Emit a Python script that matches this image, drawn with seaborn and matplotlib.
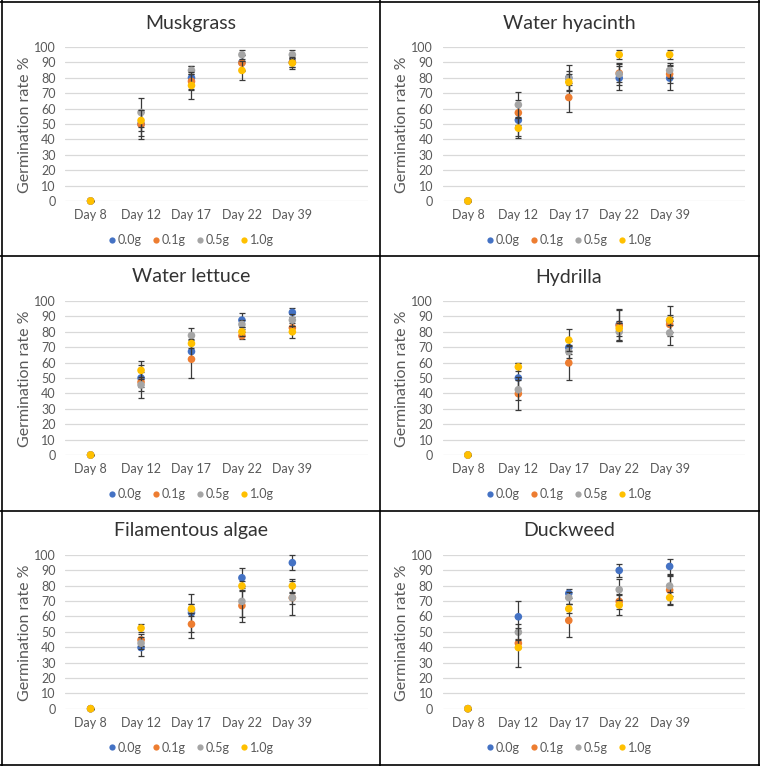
import numpy as np
import pandas as pd
import matplotlib
matplotlib.use("Agg")
import matplotlib.pyplot as plt
import seaborn as sns
from matplotlib.lines import Line2D

days = ["Day 8", "Day 12", "Day 17", "Day 22", "Day 39"]
doses = ["0.0g", "0.1g", "0.5g", "1.0g"]
colors = ["#4472C4", "#ED7D31", "#A5A5A5", "#FFC000"]
titles = ["Muskgrass", "Water hyacinth", "Water lettuce", "Hydrilla",
          "Filamentous algae", "Duckweed"]

# mean germination rate, one row per dose (0.0g, 0.1g, 0.5g, 1.0g)
muskgrass_mean = [[0, 50, 80, 90, 90], [0, 49.7, 77.7, 89.6, 90],
                  [0, 57.5, 84.8, 95, 95], [0, 52.3, 75, 84.8, 89.6]]
muskgrass_err = [[0, 8, 7.6, 5, 3], [0, 9.7, 5, 5, 3],
                 [0, 9.3, 2.6, 2.8, 2.8], [0, 7, 8.6, 6, 4]]

hyacinth_mean = [[0, 52.5, 80, 79.8, 79.8], [0, 57.3, 67.2, 83, 82.4],
                 [0, 62.5, 79.8, 82.4, 84.8], [0, 47.3, 77.2, 95, 95]]
hyacinth_err = [[0, 10, 8.5, 8, 8], [0, 8, 9.5, 6, 6],
                [0, 8.2, 4.5, 7, 5], [0, 6.5, 5, 2.8, 2.8]]

lettuce_mean = [[0, 50, 67.2, 87.6, 92.6], [0, 47.4, 62.2, 77.4, 82.6],
                [0, 45.5, 77.6, 84.8, 87.6], [0, 55, 72.4, 80, 80]]
lettuce_err = [[0, 8.5, 5, 4.4, 3], [0, 3, 12.2, 2.2, 3],
               [0, 8.5, 4.6, 3, 4], [0, 5.9, 3, 3, 4]]

hydrilla_mean = [[0, 50, 69.8, 84.8, 87], [0, 39.8, 59.8, 84, 84.8],
                 [0, 42.4, 67.2, 80, 79.3], [0, 57.2, 74.6, 82.2, 87.6]]
hydrilla_err = [[0, 10, 4, 9.8, 9.7], [0, 10.8, 10.9, 10, 5],
                [0, 6.5, 4, 6, 7.6], [0, 2.8, 6.9, 5, 3]]

algae_mean = [[0, 39.7, 62.3, 85, 94.8], [0, 44.7, 54.9, 66.9, 72],
              [0, 42.5, 64, 69.7, 72.1], [0, 52.3, 64.9, 79.7, 79.7]]
algae_err = [[0, 5.5, 12.4, 6.3, 5], [0, 4, 8.7, 10.5, 4],
             [0, 4, 3.7, 10, 11], [0, 2.8, 3, 3, 4.3]]

duckweed_mean = [[0, 59.7, 74.9, 89.8, 92.4], [0, 42.5, 57.3, 69.7, 77.1],
                 [0, 49.7, 72.1, 77.3, 79.7], [0, 39.7, 64.9, 67.3, 72.1]]
duckweed_err = [[0, 10.2, 2.7, 4.1, 4.8], [0, 3, 10.9, 5, 9.8],
                [0, 5, 4, 7, 6.5], [0, 12.9, 3, 6.5, 4]]

means = [muskgrass_mean, hyacinth_mean, lettuce_mean, hydrilla_mean,
         algae_mean, duckweed_mean]
errs = [muskgrass_err, hyacinth_err, lettuce_err, hydrilla_err,
        algae_err, duckweed_err]

sns.set_theme(style="white")
plt.rcParams['font.family'] = ['Lato', 'DejaVu Sans']

W, H = 760, 766
fig = plt.figure(figsize=(W / 100, H / 100), dpi=100)

col_left = [65.4, 442.7]
col_center = [191, 569]
row_top = [47, 301, 554.7]
row_shift = [0, 254, 507.7]
ax_w, ax_h = 302.6, 154

for i, title in enumerate(titles):
    r, c = divmod(i, 2)
    ax = fig.add_axes([col_left[c] / W, 1 - (row_top[r] + ax_h) / H, ax_w / W, ax_h / H])

    rows = []
    for k, dose in enumerate(doses):
        for j, d in enumerate(days):
            rows.append({"x": j, "rate": means[i][k][j], "err": errs[i][k][j], "dose": dose})
    df = pd.DataFrame(rows)

    for k, dose in enumerate(doses):
        sub = df[df["dose"] == dose]
        ax.errorbar(sub["x"], sub["rate"], yerr=sub["err"], fmt="none",
                    ecolor="#3a3a3a", elinewidth=0.9, capsize=2.5, capthick=0.9,
                    zorder=2 + k, clip_on=False)
        sns.scatterplot(data=sub, x="x", y="rate", color=colors[k], s=30,
                        edgecolor="none", ax=ax, zorder=2.5 + k, clip_on=False,
                        legend=False)

    ax.set_xlim(-0.5, 5.5)
    ax.set_ylim(0, 100)
    ax.set_yticks(np.arange(0, 101, 10))
    ax.set_xticks(range(len(days)))
    ax.set_xticklabels(days)
    ax.grid(axis="y", color="#d9d9d9", lw=0.9)
    ax.set_axisbelow(True)
    for s in ax.spines.values():
        s.set_visible(False)
    ax.tick_params(axis="both", length=0, labelsize=9, colors="#595959")
    ax.tick_params(axis="y", pad=7)
    ax.tick_params(axis="x", pad=6)
    ax.set_xlabel("")
    ax.set_ylabel("")

    off = row_shift[r]
    fig.text(col_center[c] / W, 1 - (23 + off) / H, title, ha="center", va="center",
             fontsize=14, color="#333333")
    fig.text((25 + (377.5 if c else 0)) / W, 1 - (125 + off) / H, "Germination rate %",
             rotation=90, ha="center", va="center", fontsize=11.5, color="#595959")

    handles = [Line2D([], [], marker="o", ls="none", color=colors[k],
                      markersize=4.5, markeredgewidth=0) for k in range(4)]
    ax.legend(handles, doses, loc="center", ncol=4, frameon=False, fontsize=9,
              bbox_to_anchor=(col_center[c] / W, 1 - (240 + off) / H),
              bbox_transform=fig.transFigure, handletextpad=0.2, handlelength=0.6,
              columnspacing=0.8, labelcolor="#595959")

# panel borders
for x in [1.5, 380, 758.5]:
    fig.add_artist(Line2D([x / W, x / W], [0, 1], color="black", lw=1.2,
                          transform=fig.transFigure))
for y in [1.5, 256, 510.5, 764.5]:
    fig.add_artist(Line2D([0, 1], [1 - y / H, 1 - y / H], color="black", lw=1.2,
                          transform=fig.transFigure))

fig.savefig("out.png", dpi=100)
